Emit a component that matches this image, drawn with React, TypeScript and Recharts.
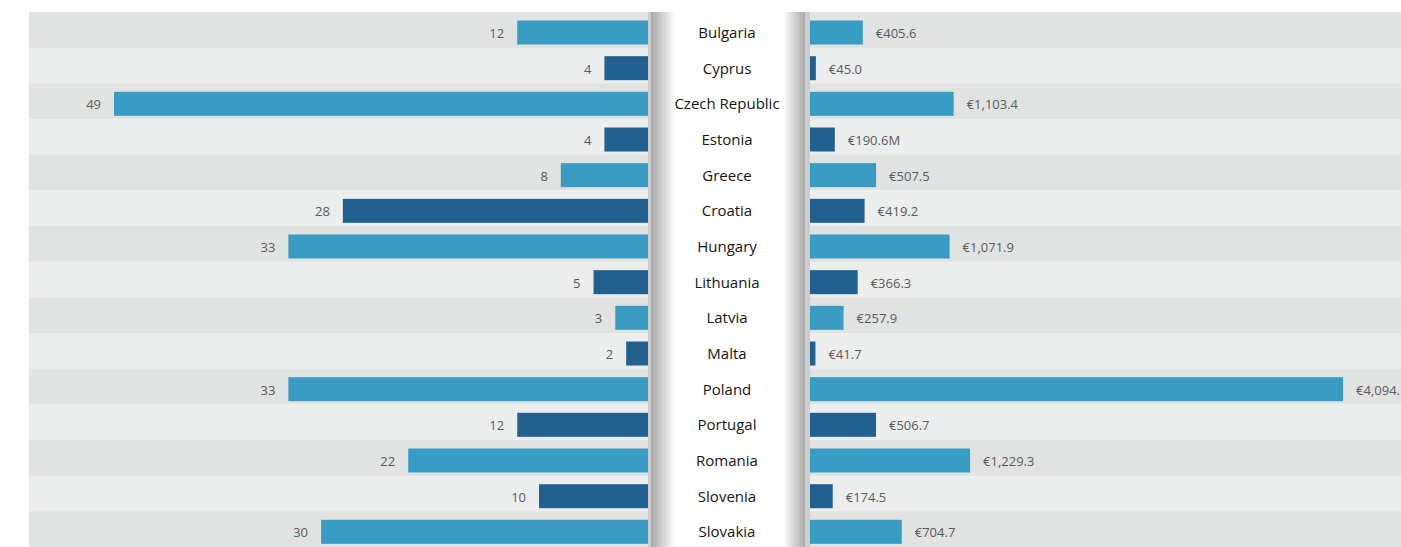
import { BarChart, Bar, XAxis, YAxis, LabelList } from "recharts";

const countries = [
  "Bulgaria", "Cyprus", "Czech Republic", "Estonia", "Greece", "Croatia", "Hungary",
  "Lithuania", "Latvia", "Malta", "Poland", "Portugal", "Romania", "Slovenia", "Slovakia",
];
const projects = [12, 4, 49, 4, 8, 28, 33, 5, 3, 2, 33, 12, 22, 10, 30];
const funding = [405.6, 45.0, 1103.4, 190.6, 507.5, 419.2, 1071.9, 366.3, 257.9, 41.7, 4094.1, 506.7, 1229.3, 174.5, 704.7];
const fundingLabels = [
  "€405.6", "€45.0", "€1,103.4", "€190.6M", "€507.5", "€419.2", "€1,071.9", "€366.3",
  "€257.9", "€41.7", "€4,094.1", "€506.7", "€1,229.3", "€174.5", "€704.7",
];

const LIGHT_BLUE = "#399cc3";
const DARK_BLUE = "#21608f";
const ROW_DARK = "#e1e2e2";
const ROW_LIGHT = "#eceded";
const LABEL_COLOR = "#5a5a5a";
const FONT = "'Open Sans', sans-serif";

const data = countries.map((country, i) => ({
  country,
  projects: projects[i],
  funding: funding[i],
  fundingLabel: fundingLabels[i],
}));

const CHART_TOP = 12;
const CHART_HEIGHT = 535;
const BAR_THICKNESS = 24;
const BAR_SHIFT = 2.5;

function RowBackground(props: any) {
  const { x, y, width, height, index } = props;
  return <rect x={x} y={y} width={width} height={height} fill={index % 2 === 0 ? ROW_DARK : ROW_LIGHT} />;
}

function BarShape(props: any) {
  const { x, y, width, height, index } = props;
  const left = Math.min(x, x + width);
  const w = Math.abs(width);
  const top = y + (height - BAR_THICKNESS) / 2 + BAR_SHIFT;
  return <rect x={left} y={top} width={w} height={BAR_THICKNESS} fill={index % 2 === 0 ? LIGHT_BLUE : DARK_BLUE} />;
}

function LeftLabel(props: any) {
  const { x, y, width, height, value } = props;
  const left = Math.min(x, x + width);
  return (
    <text x={left - 13} y={y + height / 2 + BAR_SHIFT + 0.5} textAnchor="end" dominantBaseline="central"
      fill={LABEL_COLOR} fontSize={13} fontFamily={FONT}>
      {value}
    </text>
  );
}

function RightLabel(props: any) {
  const { x, y, width, height, index } = props;
  const right = Math.max(x, x + width);
  return (
    <text x={right + 13} y={y + height / 2 + BAR_SHIFT + 0.5} textAnchor="start" dominantBaseline="central"
      fill={LABEL_COLOR} fontSize={13} fontFamily={FONT}>
      {fundingLabels[index]}
    </text>
  );
}

function CountryTick(props: any) {
  const { y, payload } = props;
  return (
    <text x={80} y={y + 2} textAnchor="middle" dominantBaseline="central" fill="#151515" fontSize={15} fontFamily={FONT}>
      {payload.value}
    </text>
  );
}

export default function App() {
  return (
    <div style={{ position: "absolute", left: 0, top: 0, width: 1401, height: 547, background: "#fff", overflow: "hidden" }}>
      {/* middle column with the shaded edges */}
      <div
        style={{
          position: "absolute",
          left: 647,
          top: CHART_TOP,
          width: 163,
          height: CHART_HEIGHT,
          background:
            "linear-gradient(to right, #cdcdcd 0px, #cdcdcd 4px, #a9a9a9 4px, #ffffff 28px, #ffffff 136px, #a9a9a9 158px, #cdcdcd 158px, #cdcdcd 163px)",
        }}
      />

      <div style={{ position: "absolute", left: 29, top: CHART_TOP }}>
        <BarChart
          width={619}
          height={CHART_HEIGHT}
          data={data}
          layout="vertical"
          margin={{ top: 0, right: 0, bottom: 0, left: 0 }}
          barCategoryGap={0}
        >
          <XAxis type="number" domain={[0, 56.8]} reversed hide />
          <YAxis type="category" dataKey="country" hide />
          <Bar dataKey="projects" isAnimationActive={false} background={RowBackground} shape={BarShape}>
            <LabelList dataKey="projects" content={LeftLabel} />
          </Bar>
        </BarChart>
      </div>

      <div style={{ position: "absolute", left: 647, top: CHART_TOP }}>
        <BarChart
          width={754}
          height={CHART_HEIGHT}
          data={data}
          layout="vertical"
          margin={{ top: 0, right: 0, bottom: 0, left: 0 }}
          barCategoryGap={0}
        >
          <XAxis type="number" domain={[0, 4539]} hide />
          <YAxis type="category" dataKey="country" width={163} axisLine={false} tickLine={false} tick={CountryTick} interval={0} />
          <Bar dataKey="funding" isAnimationActive={false} background={RowBackground} shape={BarShape}>
            <LabelList dataKey="fundingLabel" content={RightLabel} />
          </Bar>
        </BarChart>
      </div>
    </div>
  );
}
